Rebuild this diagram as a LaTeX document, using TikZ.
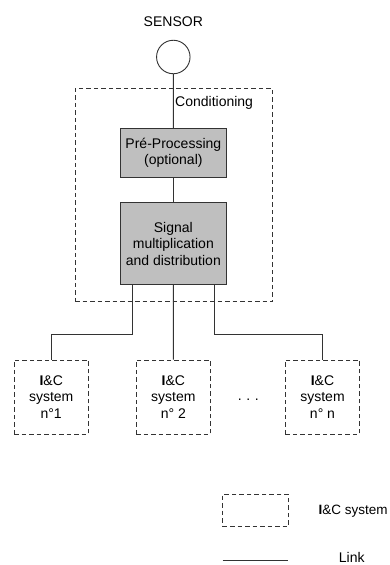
\documentclass[tikz,border=0pt]{standalone}
\usepackage{fontspec}
\setmainfont{Liberation Sans}
\begin{document}
\begin{tikzpicture}[x=1pt,y=-1pt,
  every node/.style={font=\fontsize{14}{16.5}\selectfont, inner sep=0pt, align=center},
  ln/.style={draw=black!80, line width=0.9pt},
  dsh/.style={draw=black!80, line width=0.9pt, dash pattern=on 4.5pt off 3pt},
  graybox/.style={ln, fill=black!25},
  icbox/.style={dsh, minimum width=74.3pt, minimum height=74pt}]
\useasboundingbox (0,0) rectangle (390,565);
\node (senslbl) at (173.3,22) {SENSOR};
\node[circle, ln, minimum size=33.5pt] (sensor) at (173.3,57) {};
\node[dsh, minimum width=197.3pt, minimum height=213.4pt] (cond) at (173.65,195) {};
\node[anchor=west] (condlbl) at (175,102.7) {Conditioning};
\node[graybox, minimum width=106.7pt, minimum height=49.4pt] (pre) at (173.35,153) {Pré-Processing\\(optional)};
\node[graybox, minimum width=106.7pt, minimum height=81.6pt] (sig) at (173.35,243.5) {Signal\\multiplication\\and distribution};
\node[icbox] (s1) at (51.2,397) {\textbf{I}\&C\\system\\n°1};
\node[icbox] (s2) at (173.3,397) {\textbf{I}\&C\\system\\n° 2};
\node[icbox] (s3) at (322.5,397) {\textbf{I}\&C\\system\\n° n};
\node (dots) at (248.3,400) {.\,\,.\,\,.};
\coordinate (j1) at (132.7,334);
\coordinate (j3) at (214.3,334);
\draw[ln] (sensor) -- (pre);
\draw[ln] (pre) -- (sig);
\draw[ln] (sig.south -| j1) -- (j1) -| (s1.north);
\draw[ln] (sig.south) -- (s2.north);
\draw[ln] (sig.south -| j3) -- (j3) -| (s3.north);
\node[dsh, minimum width=65.6pt, minimum height=32.4pt] (legbox) at (255.5,510.5) {};
\node[anchor=west, font=\fontsize{13.5}{16}\selectfont] (leglbl) at (318.5,510.7) {\textbf{I}\&C system};
\coordinate (l1) at (222.7,560);
\coordinate (l2) at (288.3,560);
\draw[ln] (l1) -- (l2);
\node (linklbl) at (351.7,557) {Link};
\end{tikzpicture}
\end{document}
